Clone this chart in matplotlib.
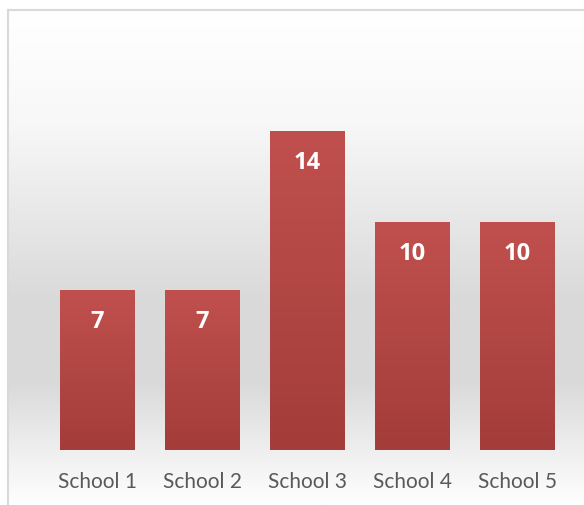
import matplotlib.pyplot as plt
import numpy as np
from matplotlib.colors import LinearSegmentedColormap

schools = ["School 1", "School 2", "School 3", "School 4", "School 5"]
counts = [7, 7, 14, 10, 10]

W, H = 584, 506
fig = plt.figure(figsize=(W / 100, H / 100), dpi=100)
fig.patch.set_facecolor("white")

# chart area background with a soft vertical gradient
bg = fig.add_axes([8 / W, 0, 1 - 8 / W, (H - 11) / H])
bg_cmap = LinearSegmentedColormap.from_list(
    "bg", [(0.0, "#ffffff"), (0.22, "#f8f8f8"), (0.58, "#dadada"),
           (0.75, "#d9d9d9"), (0.92, "#f3f3f3"), (1.0, "#fefefe")])
bg.imshow(np.linspace(0, 1, 256).reshape(-1, 1), cmap=bg_cmap,
          aspect="auto", extent=(0, 1, 0, 1), origin="upper")
bg.set_xlim(0, 1)
bg.set_ylim(0, 1)
bg.set_xticks([])
bg.set_yticks([])
for side in ["right", "bottom"]:
    bg.spines[side].set_visible(False)
for side in ["left", "top"]:
    bg.spines[side].set_color("#d9d9d9")
    bg.spines[side].set_linewidth(1.5)

ax = fig.add_axes([45 / W, 55 / H, 525 / W, 364.8 / H])
ax.set_facecolor("none")
x = np.arange(len(schools))
bars = ax.bar(x, counts, width=0.714, color="none")

bar_cmap = LinearSegmentedColormap.from_list("bar", ["#c0504d", "#a33d3a"])
grad = np.linspace(0, 1, 256).reshape(-1, 1)
for b, v in zip(bars, counts):
    x0, w = b.get_x(), b.get_width()
    ax.imshow(grad, cmap=bar_cmap, aspect="auto", origin="upper",
              extent=(x0, x0 + w, 0, b.get_height()), zorder=2)
    ax.annotate(str(v), (b.get_x() + w / 2, v), xytext=(0, -21.6),
                textcoords="offset points", ha="center", va="center",
                color="white", fontsize=17, fontweight="bold",
                family="Open Sans", zorder=3)

ax.set_xlim(-0.5, len(schools) - 0.5)
ax.set_ylim(0, 16.05)
ax.set_xticks(x)
ax.set_xticklabels(schools, fontsize=15, color="#595959", family="Lato")
ax.tick_params(axis="x", length=0, pad=15)
ax.set_yticks([])
for s in ax.spines.values():
    s.set_visible(False)

fig.savefig("out.png", dpi=100)
